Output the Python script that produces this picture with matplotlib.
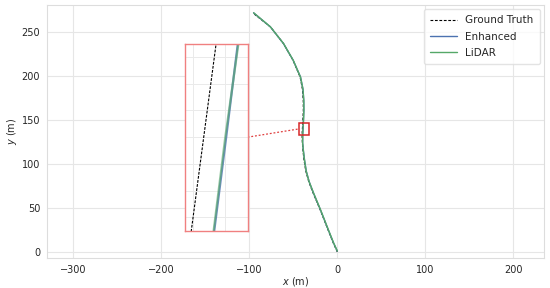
import numpy as np
import matplotlib
matplotlib.use("Agg")
import matplotlib.pyplot as plt
import seaborn as sns
from matplotlib.patches import Rectangle
from matplotlib.ticker import MultipleLocator

# trajectory points (x, y) in metres
gt_x = [0, -4.5, -10.5, -19.5, -27.5, -32.5, -35.8, -37.9, -39.0, -39.7, -40.06, -39.27, -38.6, -38.7, -39.6, -42.3, -50.3, -61.2, -76, -95]
gt_y = [0, 10, 25, 48, 67, 80, 92, 105, 115, 124, 133, 147, 161, 172, 185, 199, 218, 237, 256, 271]

enh_x = [0, -4.2, -10.2, -19.2, -27.1, -32.0, -35.3, -37.3, -38.5, -39.4, -39.33, -38.95, -38.58, -38.0, -38.1, -39.0, -41.8, -50.2, -61.2, -76.1, -95.2]
enh_y = [1, 10, 25, 48, 67, 80, 92, 105, 115, 124, 133, 140, 147, 161, 172, 185, 199, 218, 237, 256, 272]

lid_x = [0, -4.1, -10.1, -19.1, -27.0, -32.1, -35.4, -37.4, -38.6, -39.42, -39.35, -38.98, -38.56, -38.0, -38.1, -39.0, -41.9, -50.1, -61.1, -76.0, -95.1]
lid_y = [1, 10, 25, 48, 67, 80, 92, 105, 115, 124, 133, 140, 147, 161, 172, 185, 199, 218, 237, 256, 272]

labels = ["Ground Truth", "Enhanced", "LiDAR"]

# zoom window (main plot box) and inset placement
box = (-43, 133, 11, 14)
inset_xlim = (-40.27, -38.27)
inset_ylim = (133, 147)

sns.set_style("whitegrid")
plt.rcParams["font.family"] = ["DejaVu Sans"]
plt.rcParams["font.size"] = 7

fig = plt.figure(figsize=(5.5, 2.88), dpi=100)
ax = fig.add_axes([0.0855, 0.104, 0.9036, 0.879])

l_gt, = ax.plot(gt_x, gt_y, color="black", ls=(0, (2.5, 1.5)), lw=0.8, zorder=1.5)
l_enh, = ax.plot(enh_x, enh_y, color="#4c72b0", lw=1.0, zorder=2)
l_lid, = ax.plot(lid_x, lid_y, color="#55a868", lw=1.0, zorder=3)

ax.set_xlim(-330, 235)
ax.set_ylim(-7, 281)
ax.set_xticks([-300, -200, -100, 0, 100, 200])
ax.set_yticks([0, 50, 100, 150, 200, 250])
ax.tick_params(labelsize=7, colors="#262626", pad=1.5)
ax.set_xlabel(r"$x$ (m)", fontsize=7, labelpad=0)
ax.set_ylabel(r"$y$ (m)", fontsize=7, labelpad=2)
ax.grid(color="#e6e6e6", lw=0.8)
for s in ax.spines.values():
    s.set_color("#dddddd")

ax.add_patch(Rectangle((box[0], box[1]), box[2], box[3], fill=False,
                       edgecolor="#d62728", lw=1.1, zorder=5))

axin = ax.inset_axes([-173.5, 24, 71.5, 213], transform=ax.transData)
axin.plot(gt_x, gt_y, color="black", ls=(0, (2.5, 1.2)), lw=0.8)
axin.plot(enh_x, enh_y, color="#4c72b0", lw=1.6, alpha=0.8)
axin.plot(lid_x, lid_y, color="#55a868", lw=1.6, alpha=0.6)
axin.set_xlim(*inset_xlim)
axin.set_ylim(*inset_ylim)
axin.xaxis.set_major_locator(MultipleLocator(1))
axin.yaxis.set_major_locator(MultipleLocator(2))
axin.tick_params(labelbottom=False, labelleft=False, length=0)
axin.grid(color="#eaeaea", lw=0.7)
axin.set_facecolor("white")
for s in axin.spines.values():
    s.set_color("#f08080")
    s.set_linewidth(1.0)

# dotted connector from inset to box
ax.plot([-102, box[0]], [(24 + 237) / 2, box[1] + box[3] / 2], color="#e04040",
        ls=(0, (1.5, 1.5)), lw=0.9, zorder=5)

leg = ax.legend([l_gt, l_enh, l_lid], labels, loc="upper right", fontsize=7.5,
                frameon=True, borderaxespad=0.4, handlelength=2.6,
                labelspacing=0.6, borderpad=0.6)
leg.get_frame().set_edgecolor("#dddddd")

fig.savefig("out.png", dpi=100)
